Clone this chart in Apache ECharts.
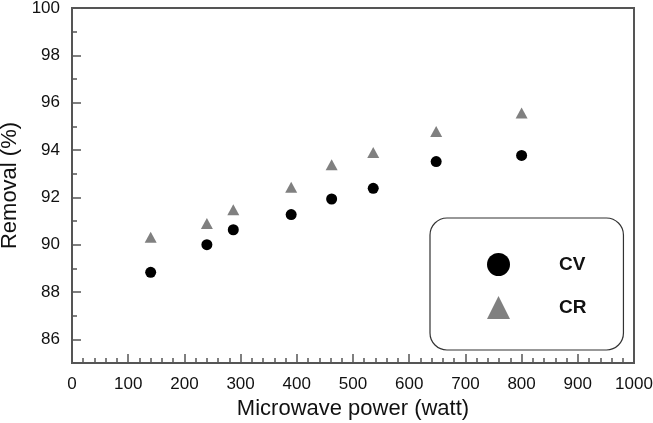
<!DOCTYPE html>
<html>
<head>
<meta charset="utf-8">
<script src="https://cdn.jsdelivr.net/npm/echarts@6/dist/echarts.min.js"></script>
<style>
html,body{margin:0;padding:0;background:#fff;}
#chart{width:653px;height:423px;}
</style>
</head>
<body>
<div id="chart"></div>
<script>
var power = [140, 240, 287, 390, 462, 536, 648, 800];
var cvValues = [88.83, 90.00, 90.63, 91.27, 91.93, 92.38, 93.51, 93.77];
var crValues = [90.31, 90.89, 91.48, 92.43, 93.38, 93.89, 94.78, 95.56];
var yMajorTicks = [86, 88, 90, 92, 94, 96, 98, 100];
var yMinorTicks = [87, 89, 91, 93, 95, 97, 99];

function pairs(xs, ys) { return xs.map(function (x, i) { return [x, ys[i]]; }); }

var font = 'Liberation Sans, Arial, sans-serif';
var chart = echarts.init(document.getElementById('chart'));
chart.setOption({
  animation: false,
  backgroundColor: '#fff',
  grid: { left: 72, right: 19, top: 8, bottom: 60, outerBoundsMode: 'none', containLabel: false, show: true, borderColor: '#555', borderWidth: 2, backgroundColor: 'transparent' },
  legend: {
    orient: 'vertical',
    left: 430, top: 218,
    data: ['CV', 'CR'],
    itemWidth: 23, itemHeight: 23,
    itemGap: 20,
    padding: [35, 37, 31, 57],
    borderColor: '#333', borderWidth: 1.2, borderRadius: 17,
    backgroundColor: '#fff',
    selectedMode: false,
    textStyle: { fontFamily: font, fontSize: 19, fontWeight: 'bold', color: '#111', padding: [0, 0, 0, 44] }
  },
  xAxis: {
    type: 'value', min: 0, max: 1000, interval: 100,
    name: 'Microwave power (watt)', nameLocation: 'middle', nameGap: 35,
    nameTextStyle: { fontFamily: font, fontSize: 22, color: '#111' },
    axisLine: { show: true, onZero: false, lineStyle: { color: '#555', width: 2 } },
    axisTick: { show: true, inside: true, length: 9, lineStyle: { color: '#555', width: 1.5 } },
    minorTick: { show: true, splitNumber: 5, length: 5, lineStyle: { color: '#555', width: 1.5 } },
    axisLabel: { fontFamily: font, fontSize: 17, color: '#111', margin: 13, formatter: function (v) { return String(v); } },
    splitLine: { show: false }
  },
  yAxis: [{
    type: 'value', min: 85, max: 100,
    name: 'Removal (%)', nameLocation: 'middle', nameGap: 46,
    nameTextStyle: { fontFamily: font, fontSize: 22, color: '#111' },
    axisLine: { show: true, onZero: false, lineStyle: { color: '#555', width: 2 } },
    axisTick: { show: true, inside: true, length: 9, customValues: yMajorTicks, lineStyle: { color: '#555', width: 1.5 } },
    axisLabel: { fontFamily: font, fontSize: 17, color: '#111', margin: 12, customValues: yMajorTicks },
    splitLine: { show: false }
  }, {
    type: 'value', min: 85, max: 100, position: 'left',
    axisLine: { show: false },
    axisTick: { show: true, inside: true, length: 5, customValues: yMinorTicks, lineStyle: { color: '#555', width: 1.5 } },
    axisLabel: { show: false },
    splitLine: { show: false }
  }],
  series: [{
    name: 'CV', type: 'scatter', symbol: 'circle', symbolSize: 11,
    itemStyle: { color: '#000', opacity: 1 },
    data: pairs(power, cvValues)
  }, {
    name: 'CR', type: 'scatter', symbol: 'triangle', symbolSize: [12, 11],
    itemStyle: { color: '#808080', opacity: 1 },
    data: pairs(power, crValues)
  }]
});
</script>
</body>
</html>
